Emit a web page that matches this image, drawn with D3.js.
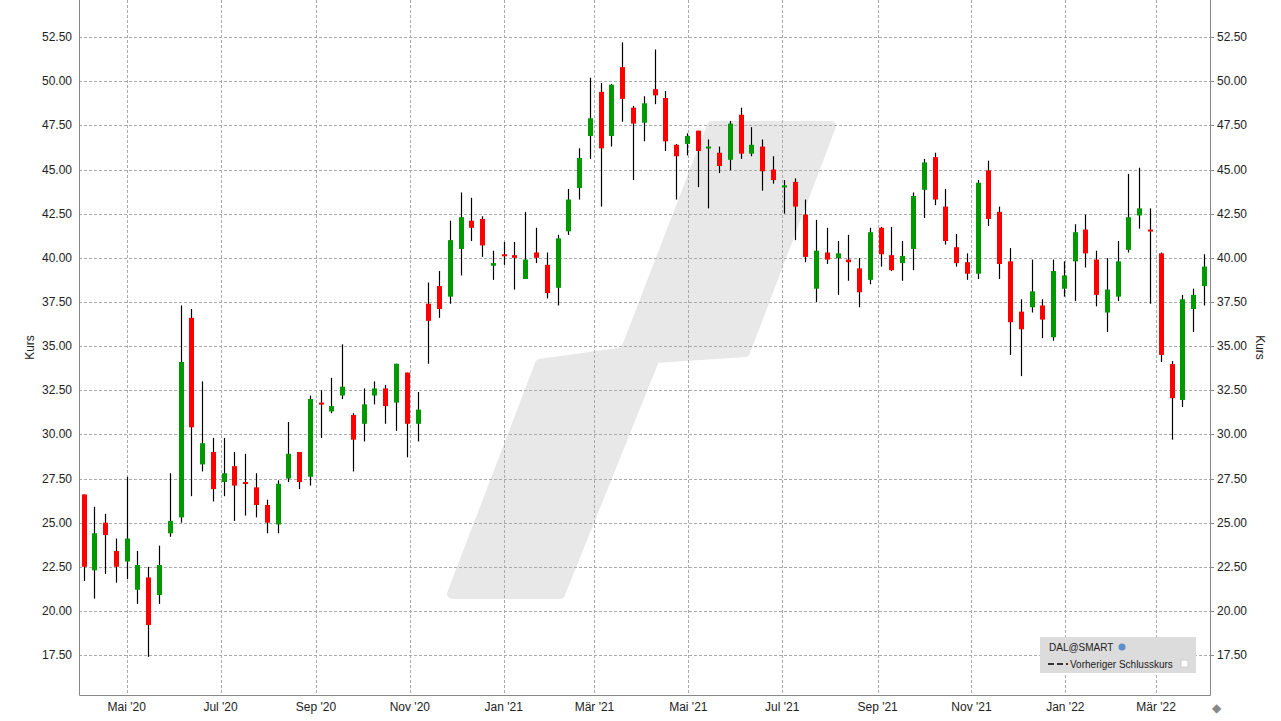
<!DOCTYPE html>
<html>
<head>
<meta charset="utf-8">
<script src="https://d3js.org/d3.v7.min.js"></script>
<style>
  body { margin:0; background:#fff; }
  svg text { font-family: "Liberation Sans", Arial, sans-serif; font-size:12px; fill:#222; }
</style>
</head>
<body>
<script>
// weekly candles, first week starting 2020-04-03
var firstWeek = "2020-04-03";
var opens  = [26.6,22.3,25.0,23.4,22.8,21.2,21.9,20.9,24.4,25.3,36.6,28.3,29.0,27.3,28.2,27.3,27.0,26.0,24.9,27.5,29.0,27.6,31.8,31.3,32.2,31.1,30.6,32.2,32.6,31.8,33.5,30.6,
  37.4,38.4,37.8,40.5,42.1,42.2,39.55,40.2,40.15,38.8,40.3,39.6,38.3,41.5,43.95,46.9,49.4,46.9,50.8,48.5,47.65,49.55,49.05,46.4,46.45,47.2,46.2,45.95,45.55,48.1,45.9,46.3,45.0,44.05,44.3,42.45,
  38.25,40.3,39.98,39.9,39.4,38.75,41.7,40.15,39.7,40.5,43.85,45.7,42.9,40.6,39.75,39.1,44.95,42.6,39.8,36.95,37.2,37.3,35.5,38.25,39.8,41.6,39.9,36.9,37.8,40.45,42.4,41.6,40.25,33.98,31.95,37.1,38.4];
var closes = [22.5,24.4,24.3,22.5,24.1,22.6,19.2,22.6,25.1,34.1,30.4,29.5,26.9,27.8,27.1,27.2,26.0,25.0,27.2,28.9,27.3,32.0,31.7,31.6,32.7,29.7,31.7,32.6,31.6,34.0,30.6,31.4,
  36.43,37.1,41.0,42.3,41.7,40.7,39.7,40.1,40.0,39.9,40.0,38.0,41.1,43.3,45.65,47.9,46.2,49.8,49.0,47.6,48.75,49.2,46.6,45.75,46.9,46.05,46.3,45.2,47.6,45.9,46.4,44.9,44.4,44.1,42.9,40.05,
  40.4,39.9,40.25,39.75,38.05,41.45,40.2,39.3,40.1,43.5,45.4,43.3,40.95,39.7,39.1,44.25,42.2,39.65,36.35,35.95,38.1,36.5,39.25,39.0,41.45,40.25,37.9,38.2,39.8,42.3,42.8,41.5,34.5,32.05,37.65,37.9,39.5];
var highs  = [26.6,25.9,25.5,24.1,27.6,23.4,22.5,23.7,27.8,37.3,37.1,33.0,29.8,29.8,29.0,28.9,27.8,26.3,27.4,30.7,29.0,32.2,32.5,33.2,35.1,31.2,32.6,33.0,32.8,34.0,33.5,32.4,
  38.6,39.25,42.1,43.7,43.4,42.35,40.4,40.9,40.9,42.6,41.7,40.3,41.3,43.9,46.2,50.2,49.9,49.85,52.2,48.6,49.15,51.8,49.45,46.45,47.05,47.2,46.7,46.3,47.75,48.5,47.4,46.7,45.75,44.4,44.5,43.3,
  42.15,41.7,40.95,41.3,39.98,41.7,41.75,41.75,40.95,43.7,45.6,45.95,43.9,41.35,40.25,44.4,45.5,42.9,40.55,37.65,39.9,37.65,39.9,39.8,41.9,42.45,40.4,39.98,40.95,44.75,45.1,42.8,40.3,34.15,37.9,38.25,40.2];
var lows   = [21.7,20.7,22.1,21.6,21.8,20.4,17.4,20.4,24.2,25.0,26.5,27.9,26.2,26.5,25.1,25.4,25.3,24.4,24.4,27.3,26.9,27.1,29.8,31.2,32.0,27.9,29.6,31.7,30.6,30.2,28.7,29.6,
  34.0,36.6,37.4,39.0,40.95,40.05,38.75,39.6,38.2,38.8,39.7,37.7,37.3,41.3,43.3,45.6,42.9,46.3,47.7,44.4,46.6,48.7,46.05,43.3,45.8,44.0,42.8,44.8,44.95,45.6,45.75,43.8,44.2,42.5,41.0,39.75,
  37.5,39.65,37.9,38.7,37.2,38.5,39.5,39.25,38.7,39.3,42.25,42.98,40.75,39.5,38.75,38.8,41.8,38.8,34.5,33.3,36.9,35.45,35.3,37.8,37.55,39.45,37.25,35.8,37.55,40.3,41.65,37.4,34.1,29.7,31.55,35.8,37.3];
var yTicks = [17.5,20,22.5,25,27.5,30,32.5,35,37.5,40,42.5,45,47.5,50,52.5];
var xTickDates = ["2020-05-01","2020-07-01","2020-09-01","2020-11-01","2021-01-01","2021-03-01","2021-05-01","2021-07-01","2021-09-01","2021-11-01","2022-01-01","2022-03-01"];
var xTickLabels = ["Mai '20","Jul '20","Sep '20","Nov '20","Jan '21","Mär '21","Mai '21","Jul '21","Sep '21","Nov '21","Jan '22","Mär '22"];

var W = 1281, H = 721, L = 79, R = 1210, T = 0, B = 695;
var parse = d3.timeParse("%Y-%m-%d");
var d0 = parse(firstWeek);
var candles = opens.map(function(o, i) {
  return {date: d3.timeDay.offset(d0, 7 * i), o: o, c: closes[i], h: highs[i], l: lows[i]};
});

var svg = d3.select("body").append("svg").attr("width", W).attr("height", H);

var x = d3.scaleTime().domain([parse("2020-03-31"), parse("2022-04-05")]).range([L, R]);
var y = d3.scaleLinear().domain([15.24, 54.6]).range([B, T]);

// watermark
svg.append("path")
  .attr("d", "M712,126 L831,126 L745,352 L655,358 L560,594 L452,594 L540,364 L625,352 Z")
  .attr("fill", "#e8e8e8").attr("stroke", "#e8e8e8").attr("stroke-width", 10).attr("stroke-linejoin", "round");

// grid
svg.append("g").selectAll("line").data(yTicks).enter().append("line")
  .attr("x1", L).attr("x2", R).attr("y1", function(d){ return Math.round(y(d)) + 0.5; }).attr("y2", function(d){ return Math.round(y(d)) + 0.5; })
  .attr("stroke", "#aaa").attr("stroke-dasharray", "3,2");
svg.append("g").selectAll("line").data(xTickDates).enter().append("line")
  .attr("x1", function(d){ return Math.round(x(parse(d))) + 0.5; }).attr("x2", function(d){ return Math.round(x(parse(d))) + 0.5; })
  .attr("y1", T).attr("y2", B)
  .attr("stroke", "#aaa").attr("stroke-dasharray", "3,2");

// candles
var g = svg.append("g");
g.selectAll("line.wick").data(candles).enter().append("line")
  .attr("x1", function(d){ return Math.round(x(d.date)) + 0.5; }).attr("x2", function(d){ return Math.round(x(d.date)) + 0.5; })
  .attr("y1", function(d){ return y(d.h); }).attr("y2", function(d){ return y(d.l); })
  .attr("stroke", "#000").attr("stroke-width", 1.2);
g.selectAll("rect").data(candles).enter().append("rect")
  .attr("x", function(d){ return Math.round(x(d.date)) - 2; })
  .attr("width", 5)
  .attr("y", function(d){ return y(Math.max(d.o, d.c)); })
  .attr("height", function(d){ return Math.max(2, Math.abs(y(d.o) - y(d.c))); })
  .attr("fill", function(d){ return d.c >= d.o ? "#009a00" : "#ff0000"; });

// frame
svg.append("path").attr("d", "M" + (L + 0.5) + "," + T + " V" + (B + 0.5) + " H" + (R + 0.5) + " V" + T)
  .attr("fill", "none").attr("stroke", "#888");

// y labels both sides
svg.append("g").selectAll("text").data(yTicks).enter().append("text")
  .attr("x", 72).attr("y", function(d){ return y(d) + 4; }).attr("text-anchor", "end")
  .text(function(d){ return d3.format(".2f")(d); });
svg.append("g").selectAll("text").data(yTicks).enter().append("text")
  .attr("x", 1217).attr("y", function(d){ return y(d) + 4; })
  .text(function(d){ return d3.format(".2f")(d); });
svg.append("g").selectAll("line").data(yTicks).enter().append("line")
  .attr("x1", R).attr("x2", R + 4).attr("y1", function(d){ return Math.round(y(d)) + 0.5; }).attr("y2", function(d){ return Math.round(y(d)) + 0.5; })
  .attr("stroke", "#888");

// x labels
svg.append("g").selectAll("text").data(xTickDates).enter().append("text")
  .attr("x", function(d){ return x(parse(d)); }).attr("y", 711).attr("text-anchor", "middle")
  .text(function(d, i){ return xTickLabels[i]; });

svg.append("text").attr("transform", "translate(34," + ((T + B) / 2) + ") rotate(-90)").attr("text-anchor", "middle").text("Kurs");
svg.append("text").attr("transform", "translate(1256," + ((T + B) / 2) + ") rotate(90)").attr("text-anchor", "middle").text("Kurs");
svg.append("text").attr("x", 1212).attr("y", 712).attr("font-size", 10).style("fill", "#888").text("◆");

// legend
var lg = svg.append("g").attr("transform", "translate(1040,637)");
lg.append("rect").attr("width", 156).attr("height", 36).attr("fill", "#dcdcdc");
lg.append("text").attr("x", 9).attr("y", 14).style("font-size", "10px").text("DAL@SMART");
lg.append("circle").attr("cx", 82).attr("cy", 10).attr("r", 3.5).attr("fill", "#5b8fc9");
lg.append("line").attr("x1", 8).attr("x2", 28).attr("y1", 27).attr("y2", 27).attr("stroke", "#333").attr("stroke-width", 2).attr("stroke-dasharray", "6,3");
lg.append("text").attr("x", 30).attr("y", 31).style("font-size", "10px").text("Vorheriger Schlusskurs");
lg.append("rect").attr("x", 141).attr("y", 23).attr("width", 7).attr("height", 7).attr("fill", "#fff").attr("stroke", "#ccc");
</script>
</body>
</html>
